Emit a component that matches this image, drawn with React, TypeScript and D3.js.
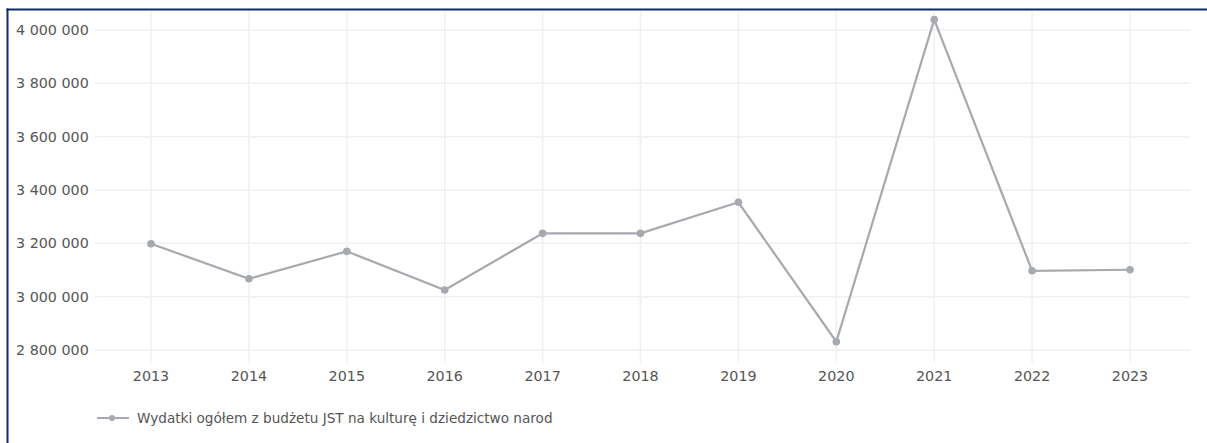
import React from "react";
import * as d3 from "d3";

const years = ["2013", "2014", "2015", "2016", "2017", "2018", "2019", "2020", "2021", "2022", "2023"];
const values = [3198500, 3067000, 3170000, 3025000, 3237500, 3237500, 3354000, 2831000, 4039000, 3097000, 3101000];
const yTicks = [2800000, 3000000, 3200000, 3400000, 3600000, 3800000, 4000000];
const seriesName = "Wydatki ogółem z budżetu JST na kulturę i dziedzictwo narodowe";

const W = 1207;
const H = 443;
const plotLeft = 95;
const plotRight = 1190;
const plotTop = 11;
const plotBottom = 363;
const FONT = "'DejaVu Sans', Verdana, sans-serif";
const LINE = "#a6aaae";

export default function App() {
  const x = d3.scalePoint<string>().domain(years).range([151, 1130]);
  const y = d3.scaleLinear().domain([2800000, 4000000]).range([350, 30]);
  const fmt = (v: number) => d3.format(",")(v).replace(/,/g, " ");
  const line = d3
    .line<number>()
    .x((_, i) => x(years[i]) as number)
    .y((d) => y(d));

  return (
    <svg
      width={W}
      height={H}
      style={{ position: "absolute", left: 0, top: 0, background: "#fff" }}
    >
      <defs>
        <clipPath id="legclip">
          <rect x={0} y={395} width={553} height={40} />
        </clipPath>
      </defs>
      {/* grid */}
      {yTicks.map((t) => (
        <line key={"h" + t} x1={plotLeft} x2={plotRight} y1={y(t)} y2={y(t)} stroke="#f0f0f0" strokeWidth={1.5} />
      ))}
      {years.map((yr) => (
        <line key={"v" + yr} x1={x(yr)} x2={x(yr)} y1={plotTop} y2={plotBottom} stroke="#f0f0f0" strokeWidth={1.5} />
      ))}
      {/* y labels */}
      {yTicks.map((t) => (
        <text key={"yl" + t} x={16} y={y(t)} dy="0.35em" fontFamily={FONT} fontSize={14.3} fill="#555">
          {fmt(t)}
        </text>
      ))}
      {/* x labels */}
      {years.map((yr) => (
        <text key={"xl" + yr} x={x(yr)} y={376} dy="0.35em" textAnchor="middle" fontFamily={FONT} fontSize={14.3} fill="#555">
          {yr}
        </text>
      ))}
      {/* series */}
      <path d={line(values) || ""} fill="none" stroke={LINE} strokeWidth={2.2} />
      {values.map((v, i) => (
        <circle key={"p" + i} cx={x(years[i])} cy={y(v)} r={3.8} fill={LINE} />
      ))}
      {/* legend */}
      <line x1={97} x2={129} y1={418} y2={418} stroke={LINE} strokeWidth={2} />
      <circle cx={112} cy={418} r={3} fill={LINE} />
      <g clipPath="url(#legclip)">
        <text x={137} y={418} dy="0.35em" fontFamily={FONT} fontSize={13.6} fill="#555">
          {seriesName}
        </text>
      </g>
      {/* frame */}
      <line x1={7.5} x2={7.5} y1={8.5} y2={H} stroke="#0f2a6b" strokeWidth={2} />
      <line x1={6.5} x2={W} y1={9.5} y2={9.5} stroke="#0f2a6b" strokeWidth={2} />
    </svg>
  );
}
